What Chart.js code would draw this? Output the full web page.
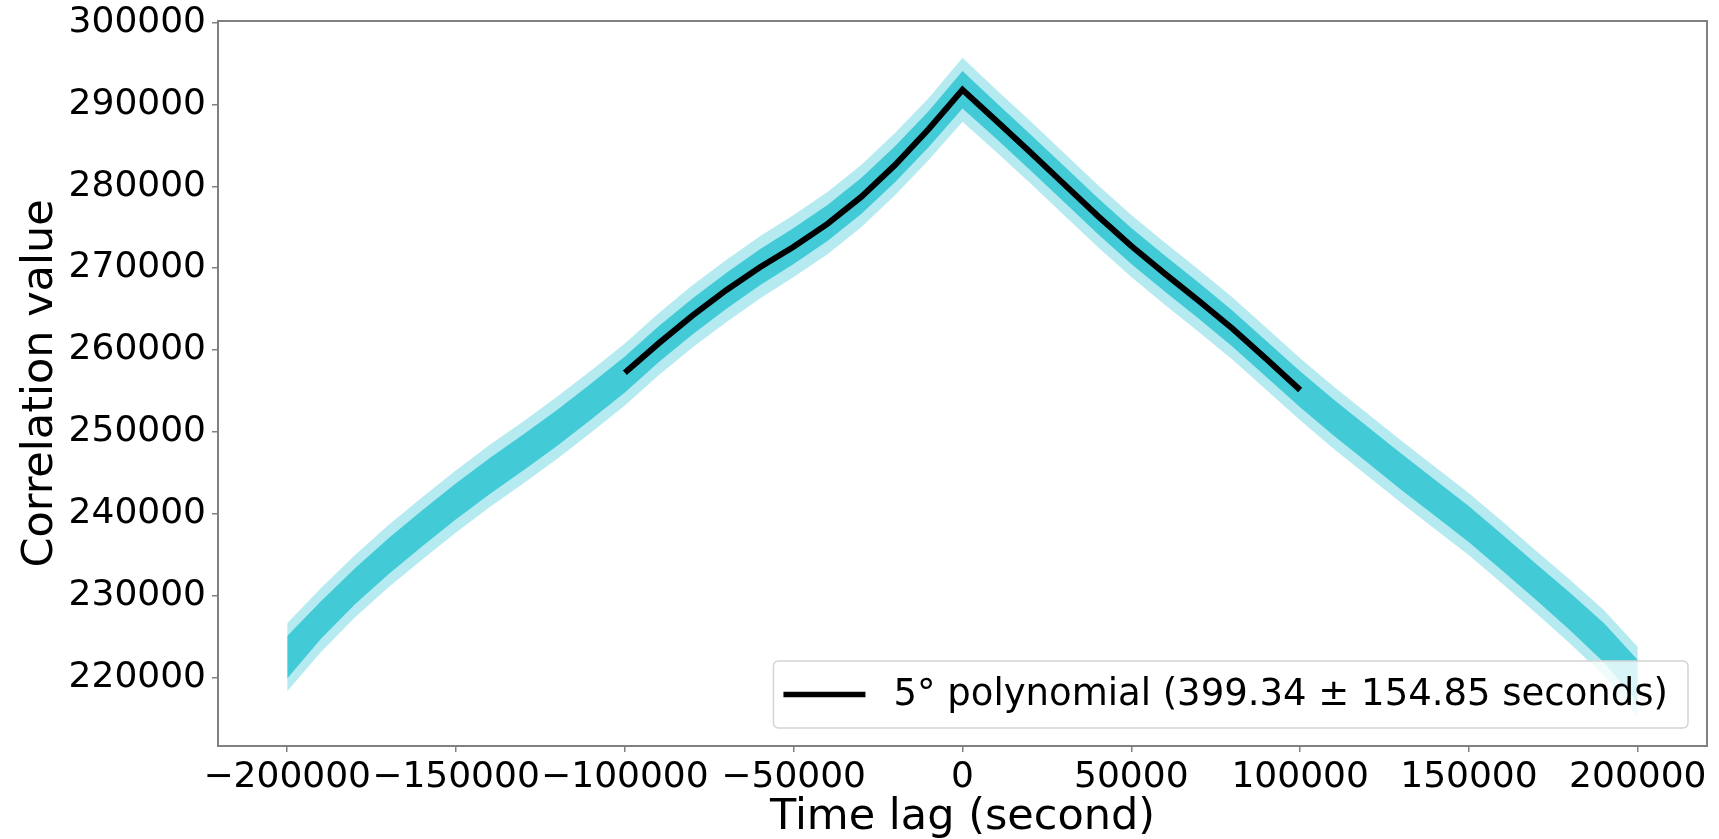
<!DOCTYPE html>
<html>
<head>
<meta charset="utf-8">
<script src="https://cdn.jsdelivr.net/npm/chart.js@4.4.1/dist/chart.umd.min.js"></script>
<style>
  html, body { margin: 0; padding: 0; background: #fff; }
  #wrap { width: 1719px; height: 839px; position: relative; }
</style>
</head>
<body>
<div id="wrap"><canvas id="grafico"></canvas></div>
<script>
// Datos
const lagX = [
  -200000, -190000, -180000, -170000, -160000, -150000, -140000, -130000, -120000, -110000,
  -100000, -90000, -80000, -70000, -60000, -50000, -40000, -30000, -20000, -10000,
  0, 10000, 20000, 30000, 40000, 50000, 60000, 70000, 80000, 90000,
  100000, 110000, 120000, 130000, 140000, 150000, 160000, 170000, 180000, 190000, 200000
];
// centro de la nube de puntos
const scatterMid = [
  222450, 227000, 231100, 234800, 238200, 241500, 244600, 247500, 250500, 253700,
  257000, 260700, 264100, 267200, 270100, 272700, 275500, 278800, 282700, 287000,
  291800, 288000, 284200, 280300, 276400, 272700, 269300, 266000, 262600, 258900,
  255200, 251700, 248400, 245100, 241900, 238700, 235200, 231600, 228000, 224200, 219500
];
// ancho (mitad) de la nube: borde exterior y nucleo denso
const outerSpread = [
  4150, 3900, 3800, 3800, 3800, 3800, 3800, 3800, 3800, 3800,
  3800, 3800, 3800, 3800, 3800, 3800, 3800, 3800, 3800, 3800,
  3900, 3800, 3800, 3800, 3800, 3800, 3800, 3800, 3800, 3800,
  3800, 3800, 3800, 3800, 3800, 3800, 3800, 3800, 3900, 4000, 4200
];
const coreSpread = [
  2600, 2300, 2200, 2200, 2200, 2200, 2200, 2200, 2200, 2200,
  2200, 2200, 2200, 2200, 2200, 2200, 2200, 2200, 2200, 2200,
  2300, 2200, 2200, 2200, 2200, 2200, 2200, 2200, 2200, 2200,
  2200, 2200, 2200, 2200, 2200, 2200, 2200, 2200, 2300, 2400, 2600
];
// ajuste polinomico
const fitX = [
  -100000, -90000, -80000, -70000, -60000, -50000, -40000, -30000, -20000, -10000,
  0, 10000, 20000, 30000, 40000, 50000, 60000, 70000, 80000, 90000, 100000
];
const fitY = [
  257200, 260800, 264200, 267300, 270100, 272600, 275400, 278700, 282600, 287000,
  291800, 288000, 284200, 280300, 276400, 272700, 269300, 266000, 262600, 258900, 255100
];
const xTicks = [-200000, -150000, -100000, -50000, 0, 50000, 100000, 150000, 200000];
const yTicks = [220000, 230000, 240000, 250000, 260000, 270000, 280000, 290000, 300000];
const fitLabel = "5° polynomial (399.34 ± 154.85 seconds)";

const fuente = '"DejaVu Sans", sans-serif';
const gris = '#808080';

//Armar bordes de la nube
const edge = (spread, sign) => lagX.map((x, i) => ({ x: x, y: scatterMid[i] + sign * spread[i] }));
const tickText = v => String(v).replace('-', '\u2212');

//Marco y leyenda dibujados a mano (estilo matplotlib)
const marcoLeyenda = {
  id: 'marcoLeyenda',
  afterDatasetsDraw(chart) {
    const ctx = chart.ctx, a = chart.chartArea;
    ctx.save();
    ctx.strokeStyle = gris;
    ctx.lineWidth = 2;
    ctx.strokeRect(a.left, a.top, a.right - a.left, a.bottom - a.top);

    ctx.font = '37px ' + fuente;
    const w = 120 + ctx.measureText(fitLabel).width + 20, h = 67;
    const x = a.right - 19 - w, y = a.bottom - 18 - h;
    ctx.beginPath();
    if (ctx.roundRect) ctx.roundRect(x, y, w, h, 5); else ctx.rect(x, y, w, h);
    ctx.fillStyle = 'rgba(255,255,255,0.8)';
    ctx.fill();
    ctx.strokeStyle = '#d4d4d4';
    ctx.lineWidth = 1.5;
    ctx.stroke();

    ctx.beginPath();
    ctx.moveTo(x + 10, y + h / 2);
    ctx.lineTo(x + 92, y + h / 2);
    ctx.strokeStyle = '#000';
    ctx.lineWidth = 5.5;
    ctx.stroke();

    ctx.fillStyle = '#000';
    ctx.textBaseline = 'middle';
    ctx.textAlign = 'left';
    ctx.fillText(fitLabel, x + 120, y + h / 2 + 1);
    ctx.restore();
  }
};

const banda = { showLine: true, pointRadius: 0, borderWidth: 0, tension: 0 };

const config = {
  type: 'scatter',
  data: {
    datasets: [
      Object.assign({ label: 'outerTop', data: edge(outerSpread, 1), fill: false, order: 3 }, banda),
      Object.assign({ label: 'outerBottom', data: edge(outerSpread, -1), fill: '-1',
        backgroundColor: 'rgba(23,190,207,0.32)', order: 3 }, banda),
      Object.assign({ label: 'coreTop', data: edge(coreSpread, 1), fill: false, order: 2 }, banda),
      Object.assign({ label: 'coreBottom', data: edge(coreSpread, -1), fill: '-1',
        backgroundColor: 'rgba(23,190,207,0.72)', order: 2 }, banda),
      {
        label: fitLabel,
        data: fitX.map((x, i) => ({ x: x, y: fitY[i] })),
        showLine: true, pointRadius: 0, borderColor: '#000', borderWidth: 6,
        tension: 0, fill: false, order: 1
      }
    ]
  },
  options: {
    responsive: true,
    maintainAspectRatio: false,
    animation: false,
    devicePixelRatio: 1,
    layout: { padding: { top: 21, right: 12, left: 0, bottom: 0 } },
    plugins: { legend: { display: false }, tooltip: { enabled: false } },
    scales: {
      x: {
        type: 'linear', min: -220500, max: 220500,
        afterBuildTicks: s => { s.ticks = xTicks.map(v => ({ value: v })); },
        afterFit: s => { s.height = 93; s.paddingLeft = 0; s.paddingRight = 0; },
        ticks: { font: { family: fuente, size: 36 }, color: '#000', padding: 4,
          maxRotation: 0, autoSkip: false, callback: tickText },
        grid: { drawOnChartArea: false, tickLength: 6, color: gris, lineWidth: 1.5 },
        border: { color: gris, width: 2 },
        title: { display: true, text: 'Time lag (second)', color: '#000',
          font: { family: fuente, size: 43, lineHeight: 1 }, padding: { top: 0, bottom: 0 } }
      },
      y: {
        type: 'linear', min: 211600, max: 300200,
        afterBuildTicks: s => { s.ticks = yTicks.map(v => ({ value: v })); },
        afterFit: s => { s.width = 218; s.paddingTop = 0; s.paddingBottom = 0; },
        ticks: { font: { family: fuente, size: 36 }, color: '#000', padding: 6,
          autoSkip: false, callback: tickText },
        grid: { drawOnChartArea: false, tickLength: 6, color: gris, lineWidth: 1.5 },
        border: { color: gris, width: 2 },
        title: { display: true, text: 'Correlation value', color: '#000',
          font: { family: fuente, size: 43, lineHeight: 1 }, padding: { top: 19, bottom: 0 } }
      }
    }
  },
  plugins: [marcoLeyenda]
};

new Chart(document.getElementById('grafico'), config);
</script>
</body>
</html>
